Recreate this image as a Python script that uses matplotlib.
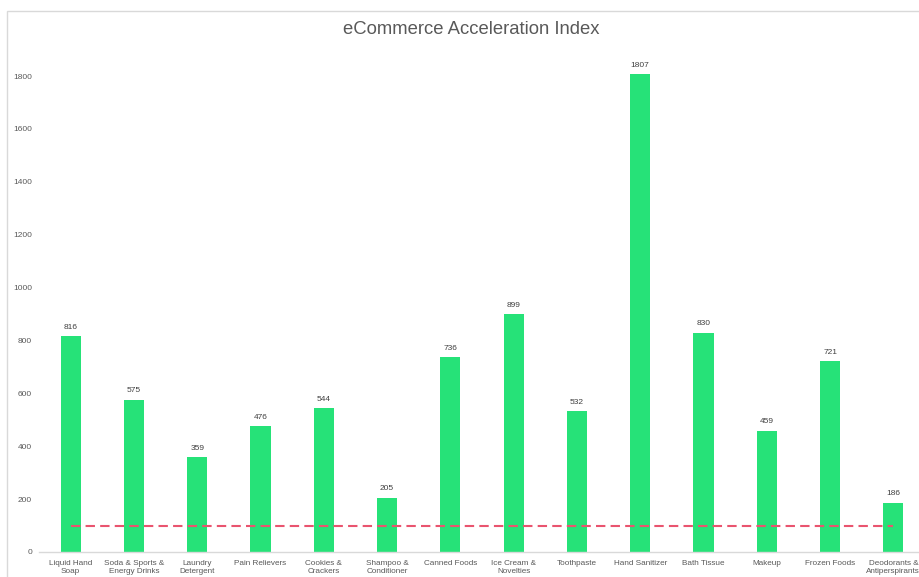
import matplotlib
matplotlib.use("Agg")
import matplotlib.pyplot as plt
from matplotlib.patches import Rectangle

# chart data
categories = ["Liquid Hand\nSoap", "Soda & Sports &\nEnergy Drinks", "Laundry\nDetergent",
              "Pain Relievers", "Cookies &\nCrackers", "Shampoo &\nConditioner",
              "Canned Foods", "Ice Cream &\nNovelties", "Toothpaste", "Hand Sanitizer",
              "Bath Tissue", "Makeup", "Frozen Foods", "Deodorants &\nAntiperspirants"]
index_values = [816, 575, 359, 476, 544, 205, 736, 899, 532, 1807, 830, 459, 721, 186]
baseline = [100] * len(categories)
y_ticks = [0, 200, 400, 600, 800, 1000, 1200, 1400, 1600, 1800]

plt.rcParams['font.family'] = ['Liberation Sans', 'DejaVu Sans']

fig = plt.figure(figsize=(9.2, 5.77), dpi=100)
fig.patch.set_facecolor('white')

# chart frame (clipped by the picture edges)
fig.add_artist(Rectangle((7 / 920, -0.1), 1.1, 1 - 11 / 577 + 0.1, transform=fig.transFigure,
                         fill=False, edgecolor='#D9D9D9', linewidth=1))

ax = fig.add_axes([39 / 920, 1 - 552 / 577, 886 / 920, (552 - 49.6) / 577])
x = list(range(len(categories)))
bars = ax.bar(x, index_values, width=0.32, color='#26E278', zorder=2)
ax.plot(x, baseline, color='#E9546F', linewidth=1.5, dashes=(4.5, 2.5), zorder=3)

for b, v in zip(bars, index_values):
    ax.annotate(str(v), (b.get_x() + b.get_width() / 2, v), xytext=(0, 4),
                textcoords='offset points', ha='center', va='bottom',
                fontsize=6, color='#404040')

ax.set_xlim(-0.5, len(categories) - 0.5)
ax.set_ylim(0, 1900)
ax.set_yticks(y_ticks)
ax.set_xticks(x)
ax.set_xticklabels(categories, fontsize=5.9, color='#595959', linespacing=1.35)
ax.tick_params(axis='y', labelsize=6, labelcolor='#595959', length=0, pad=5)
ax.tick_params(axis='x', length=0, pad=5.5)
for s in ['top', 'right', 'left']:
    ax.spines[s].set_visible(False)
ax.spines['bottom'].set_color('#D9D9D9')
ax.spines['bottom'].set_linewidth(1)
ax.patch.set_alpha(0)

fig.text(471 / 920, 1 - 30 / 577, "eCommerce Acceleration Index", ha='center', va='center',
         fontsize=13.3, color='#595959')

fig.savefig('out.png', dpi=100)
